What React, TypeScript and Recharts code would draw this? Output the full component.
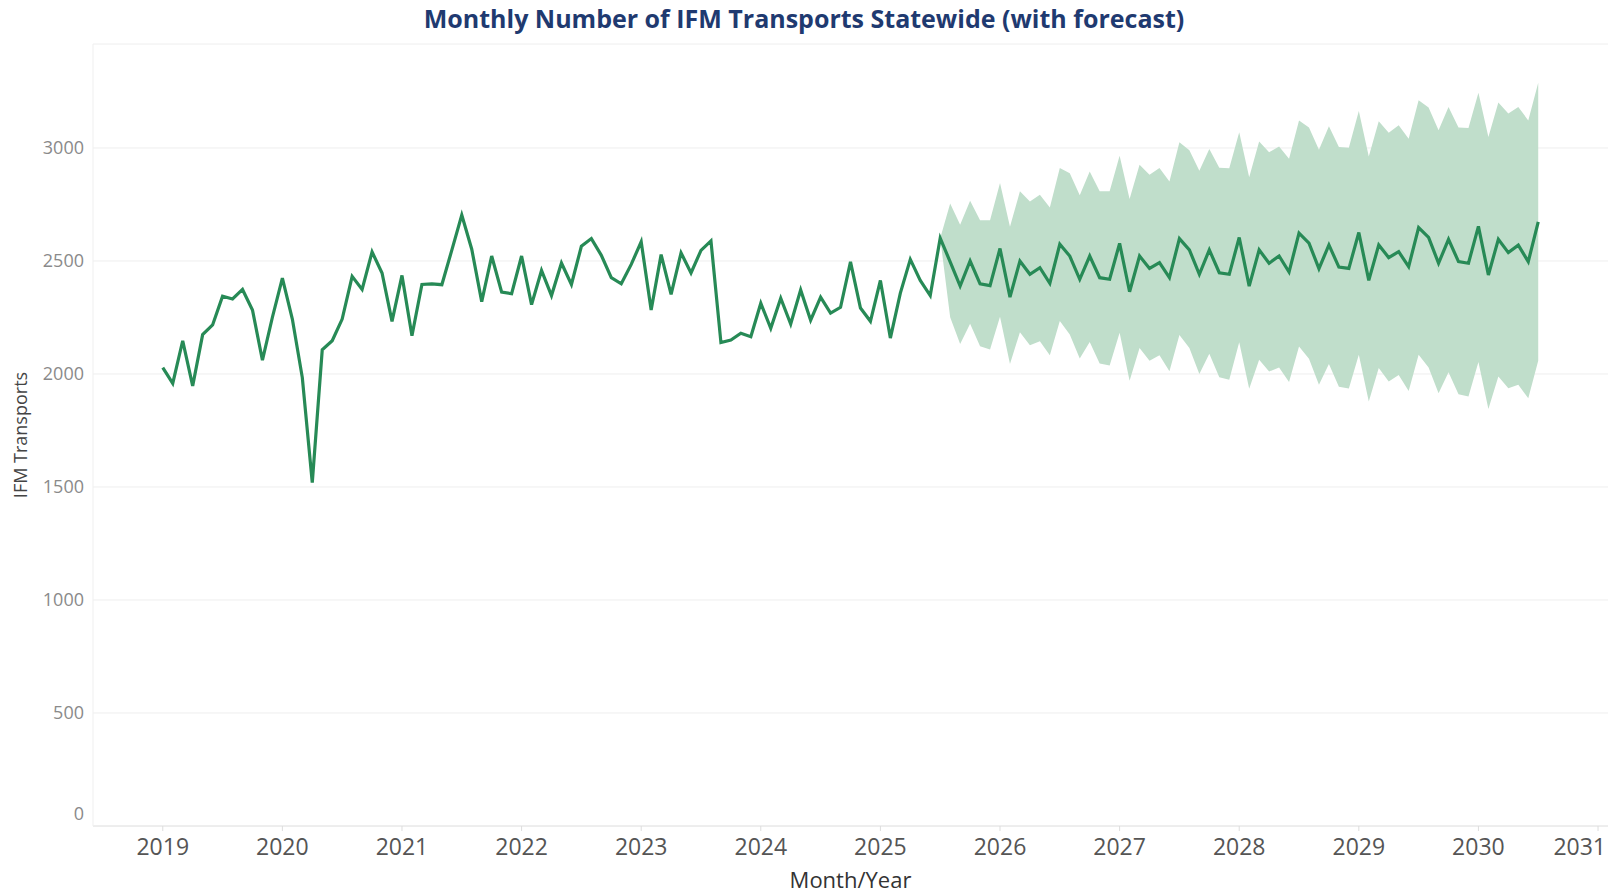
import React from 'react';
import { ComposedChart, Line, Area, XAxis, YAxis, CartesianGrid, Label } from 'recharts';

// Monthly values starting January 2019
const START_YEAR = 2019;

// Actuals: Jan 2019 – Jul 2025
const actual2019 = [2028, 1958, 2147, 1947, 2174, 2217, 2344, 2332, 2374, 2283, 2061, 2251];
const actual2020 = [2424, 2243, 1984, 1519, 2107, 2147, 2243, 2432, 2374, 2540, 2447, 2233];
const actual2021 = [2436, 2169, 2396, 2399, 2395, 2548, 2703, 2552, 2320, 2522, 2362, 2355];
const actual2022 = [2522, 2307, 2458, 2347, 2491, 2396, 2565, 2599, 2525, 2426, 2399, 2485];
const actual2023 = [2585, 2283, 2528, 2352, 2536, 2447, 2547, 2589, 2139, 2150, 2180, 2165];
const actual2024 = [2313, 2202, 2335, 2221, 2372, 2238, 2340, 2269, 2295, 2496, 2292, 2233];
const actual2025 = [2414, 2159, 2358, 2507, 2414, 2347, 2601];

// Forecast: Aug 2025 – Jul 2030
const forecastValues = [
  2496, 2389, 2500, 2399, 2391,
  2555, 2340, 2500, 2441, 2470, 2401, 2574, 2522, 2419, 2522, 2426, 2419,
  2578, 2364, 2522, 2467, 2493, 2426, 2599, 2549, 2441, 2549, 2448, 2441,
  2604, 2389, 2549, 2490, 2522, 2451, 2623, 2579, 2466, 2571, 2473, 2467,
  2626, 2414, 2571, 2515, 2541, 2475, 2648, 2604, 2490, 2596, 2497, 2490,
  2653, 2438, 2596, 2537, 2570, 2497, 2673,
];
const forecastUpper = [
  2754, 2660, 2766, 2680, 2680,
  2845, 2651, 2808, 2763, 2793, 2737, 2911, 2888, 2791, 2896, 2808, 2808,
  2966, 2774, 2926, 2882, 2911, 2852, 3025, 2990, 2899, 2995, 2912, 2910,
  3070, 2870, 3029, 2981, 3007, 2952, 3122, 3090, 2992, 3096, 3004, 3001,
  3164, 2962, 3118, 3067, 3100, 3041, 3211, 3179, 3078, 3181, 3090, 3088,
  3244, 3048, 3201, 3152, 3181, 3122, 3288,
];
const forecastLower = [
  2251, 2133, 2222, 2123, 2108,
  2253, 2044, 2185, 2127, 2145, 2083, 2234, 2175, 2068, 2142, 2046, 2037,
  2182, 1970, 2115, 2059, 2083, 2012, 2172, 2115, 2000, 2089, 1985, 1975,
  2140, 1935, 2063, 2011, 2029, 1964, 2122, 2067, 1952, 2044, 1944, 1936,
  2085, 1878, 2026, 1967, 1996, 1925, 2085, 2029, 1915, 2008, 1910, 1900,
  2053, 1845, 1989, 1937, 1952, 1893, 2059,
];

const yTicks = [0, 500, 1000, 1500, 2000, 2500, 3000];
const yearTicks = [0, 12, 24, 36, 48, 60, 72, 84, 96, 108, 120, 132, 144];

const actuals = [
  ...actual2019, ...actual2020, ...actual2021, ...actual2022,
  ...actual2023, ...actual2024, ...actual2025,
];

const data = [
  ...actuals.map((v, i) => ({
    m: i,
    value: v,
    band: i === actuals.length - 1 ? [v, v] : null,
  })),
  ...forecastValues.map((v, i) => ({
    m: actuals.length + i,
    value: v,
    band: [forecastLower[i], forecastUpper[i]],
  })),
];

const FONT = '"Open Sans", "Noto Sans", sans-serif';

const XTick = (props: any) => {
  const { x, y, payload } = props;
  const isLast = payload.value === yearTicks[yearTicks.length - 1];
  return (
    <text
      x={isLast ? x + 10 : x}
      y={y}
      dy="0.71em"
      textAnchor={isLast ? 'end' : 'middle'}
      fill="#555555"
      fontSize={23}
      fontFamily={FONT}
    >
      {START_YEAR + payload.value / 12}
    </text>
  );
};

const YTick = (props: any) => {
  const { x, y, payload } = props;
  return (
    <text
      x={x}
      y={payload.value === 0 ? y - 12 : y}
      dy="0.355em"
      textAnchor="end"
      fill="#8a8a8a"
      fontSize={18}
      fontFamily={FONT}
    >
      {payload.value}
    </text>
  );
};

export default function App() {
  return (
    <div style={{ position: 'absolute', left: 0, top: 0, width: 1608, height: 894, background: '#fff' }}>
      <div
        style={{
          position: 'absolute',
          left: 0,
          top: 0,
          width: 1608,
          height: 36,
          lineHeight: '36px',
          textAlign: 'center',
          fontFamily: '"Open Sans", Roboto, sans-serif',
          fontWeight: 700,
          fontSize: 25,
          color: '#1f3a70',
        }}
      >
        Monthly Number of IFM Transports Statewide (with forecast)
      </div>
      <ComposedChart
        width={1608}
        height={894}
        data={data}
        margin={{ top: 44, right: 0, bottom: 0, left: 0 }}
      >
        <CartesianGrid horizontal vertical={false} stroke="#eeeeee" />
        <XAxis
          dataKey="m"
          type="number"
          domain={[-7, 145]}
          ticks={yearTicks}
          allowDataOverflow
          height={68}
          tick={<XTick />}
          tickSize={5}
          tickMargin={8}
          axisLine={{ stroke: '#e4e4e4' }}
          tickLine={{ stroke: '#dddddd' }}
        >
          <Label
            value="Month/Year"
            position="insideBottom"
            offset={6}
            fill="#333333"
            fontSize={22}
            fontFamily={FONT}
          />
        </XAxis>
        <YAxis
          type="number"
          domain={[0, 3460]}
          ticks={yTicks}
          allowDataOverflow
          width={93}
          tick={<YTick />}
          tickSize={0}
          tickMargin={9}
          tickLine={false}
          axisLine={{ stroke: '#efefef' }}
        >
          <Label
            value="IFM Transports"
            angle={-90}
            position="insideLeft"
            offset={21}
            style={{ textAnchor: 'middle' }}
            fill="#444444"
            fontSize={18}
            fontFamily={FONT}
          />
        </YAxis>
        <Area
          dataKey="band"
          type="linear"
          stroke="none"
          fill="#c0decb"
          fillOpacity={1}
          isAnimationActive={false}
          dot={false}
          activeDot={false}
        />
        <Line
          dataKey="value"
          type="linear"
          stroke="#278a56"
          strokeWidth={3.2}
          dot={false}
          activeDot={false}
          isAnimationActive={false}
        />
      </ComposedChart>
    </div>
  );
}
